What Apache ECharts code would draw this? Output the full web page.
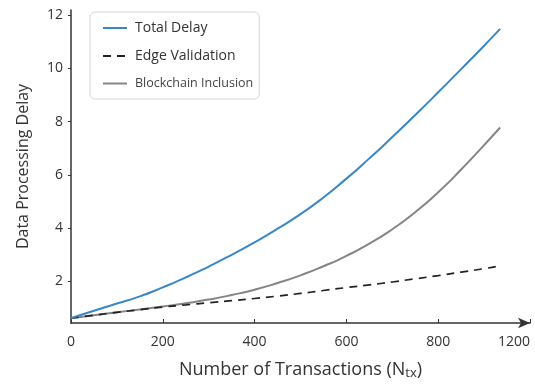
<!DOCTYPE html>
<html>
<head>
<meta charset="utf-8">
<script src="https://cdn.jsdelivr.net/npm/echarts@6/dist/echarts.min.js"></script>
<style>
  html, body { margin: 0; padding: 0; background: #fff; }
  #main { width: 535px; height: 385px; }
</style>
</head>
<body>
<div id="main"></div>
<script>
// number of transactions (x values)
var nTx = [0, 50, 100, 150, 200, 250, 300, 350, 400, 450, 500, 550, 600, 650, 700, 750, 800, 850, 900, 935];

// delays
var totalDelay = [0.62, 0.9, 1.17, 1.44, 1.78, 2.15, 2.56, 3.0, 3.47, 3.98, 4.53, 5.15, 5.86, 6.62, 7.42, 8.25, 9.1, 9.97, 10.85, 11.48];
var edgeValidation = [0.62, 0.73, 0.84, 0.94, 1.04, 1.12, 1.2, 1.28, 1.36, 1.45, 1.55, 1.66, 1.77, 1.87, 1.98, 2.1, 2.22, 2.35, 2.48, 2.59];
var blockchainInclusion = [0.62, 0.73, 0.84, 0.95, 1.06, 1.18, 1.32, 1.49, 1.69, 1.94, 2.23, 2.57, 2.96, 3.42, 3.96, 4.6, 5.35, 6.2, 7.12, 7.78];

var xTicks = [0, 200, 400, 600, 800, 1000];
var xTickLabels = ['0', '200', '400', '600', '800', '1200'];
var yTicks = [2, 4, 6, 8, 10, 12];

var fontFam = '"Open Sans", "Noto Sans", sans-serif';

function pairs(ys) {
  return nTx.map(function (x, i) { return [x, ys[i]]; });
}

var chart = echarts.init(document.getElementById('main'));

var option = {
  animation: false,
  backgroundColor: '#fff',
  grid: { left: 71, right: 5, top: 10, bottom: 62 },
  legend: {
    orient: 'vertical',
    left: 90,
    top: 12,
    padding: [9, 6, 9, 12],
    itemGap: 14,
    itemWidth: 24,
    itemHeight: 12,
    itemStyle: { opacity: 0 },
    backgroundColor: '#fff',
    borderColor: '#d6d6d6',
    borderWidth: 1,
    borderRadius: 5,
    textStyle: { fontFamily: fontFam, fontSize: 14, color: '#333', padding: [0, 0, 0, 3] },
    data: [
      { name: 'Total Delay' },
      { name: 'Edge Validation' },
      { name: 'Blockchain Inclusion', textStyle: { fontSize: 12.5, color: '#444', padding: [0, 0, 0, 3] } }
    ]
  },
  xAxis: {
    type: 'value',
    min: 0,
    max: 1000,
    name: 'Number of Transactions (N{sub|tx})',
    nameLocation: 'middle',
    nameGap: 36,
    nameTextStyle: {
      fontFamily: fontFam, fontSize: 18, color: '#333',
      rich: { sub: { fontFamily: fontFam, fontSize: 13, color: '#333', verticalAlign: 'bottom', padding: [8, 0, 0, 0] } }
    },
    splitLine: { show: false },
    axisLine: { lineStyle: { color: '#333', width: 1.5 }, symbol: ['none', 'arrow'], symbolSize: [8, 12] },
    axisTick: { show: true, inside: true, length: 4, lineStyle: { color: '#333' }, customValues: xTicks },
    axisLabel: {
      fontFamily: fontFam, fontSize: 14, color: '#333', margin: 12,
      customValues: xTicks,
      alignMaxLabel: 'right',
      formatter: function (v) { return xTickLabels[xTicks.indexOf(v)]; }
    }
  },
  yAxis: {
    type: 'value',
    min: 0.44,
    max: 12.19,
    name: 'Data Processing Delay',
    nameLocation: 'middle',
    nameGap: 40,
    nameTextStyle: { fontFamily: fontFam, fontSize: 16, color: '#333' },
    splitLine: { show: false },
    axisLine: { show: true, lineStyle: { color: '#333', width: 1.5 } },
    axisTick: { show: true, length: 3, lineStyle: { color: '#333' }, customValues: yTicks },
    axisLabel: { fontFamily: fontFam, fontSize: 14, color: '#333', margin: 8, customValues: yTicks }
  },
  series: [
    {
      name: 'Total Delay',
      type: 'line',
      data: pairs(totalDelay),
      smooth: 0.6,
      symbol: 'none',
      lineStyle: { color: '#3a87c6', width: 2 },
      itemStyle: { color: '#3a87c6' },
      z: 3
    },
    {
      name: 'Edge Validation',
      type: 'line',
      data: pairs(edgeValidation),
      smooth: 0.6,
      symbol: 'none',
      lineStyle: { color: '#222', width: 1.7, type: [8, 6] },
      itemStyle: { color: '#222' },
      z: 2
    },
    {
      name: 'Blockchain Inclusion',
      type: 'line',
      data: pairs(blockchainInclusion),
      smooth: 0.6,
      symbol: 'none',
      lineStyle: { color: '#858585', width: 2 },
      itemStyle: { color: '#858585' },
      z: 1
    }
  ]
};

chart.setOption(option);
</script>
</body>
</html>
